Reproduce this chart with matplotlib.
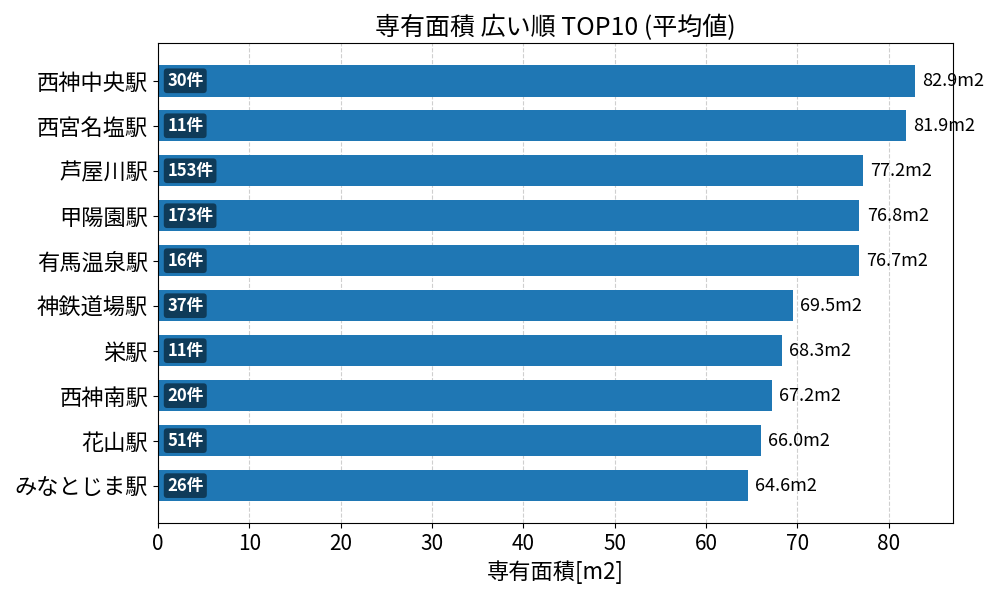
import matplotlib
matplotlib.use("Agg")
import matplotlib.pyplot as plt

plt.rcParams['font.family'] = ['Noto Sans CJK JP', 'DejaVu Sans']

stations = ["西神中央駅", "西宮名塩駅", "芦屋川駅", "甲陽園駅", "有馬温泉駅",
            "神鉄道場駅", "栄駅", "西神南駅", "花山駅", "みなとじま駅"]
areas = [82.9, 81.9, 77.2, 76.8, 76.7, 69.5, 68.3, 67.2, 66.0, 64.6]
counts = [30, 11, 153, 173, 16, 37, 11, 20, 51, 26]

fig, ax = plt.subplots(figsize=(10, 6), dpi=100)
y = list(range(len(stations)))[::-1]
ax.barh(y, areas, height=0.7, color='#1f77b4', zorder=2)

for yi, a, c in zip(y, areas, counts):
    ax.text(a + 0.8, yi, f"{a:.1f}m2", va='center', ha='left', fontsize=13)
    ax.text(1.0, yi, f"{c}件", va='center', ha='left', fontsize=12,
            color='white', fontweight='bold',
            bbox=dict(boxstyle='round,pad=0.2', facecolor='black', alpha=0.5, edgecolor='none'))

ax.set_yticks(y)
ax.set_yticklabels(stations, fontsize=16)
ax.tick_params(axis='x', labelsize=15)
ax.set_xlim(0, max(areas) * 1.05)
ax.set_xlabel("専有面積[m2]", fontsize=16)
ax.set_title("専有面積 広い順 TOP10 (平均値)", fontsize=18)
ax.grid(axis='x', linestyle='--', alpha=0.6, zorder=0)
ax.set_axisbelow(True)

plt.subplots_adjust(left=0.158, right=0.953, top=0.928, bottom=0.128)
plt.savefig("out.png")
